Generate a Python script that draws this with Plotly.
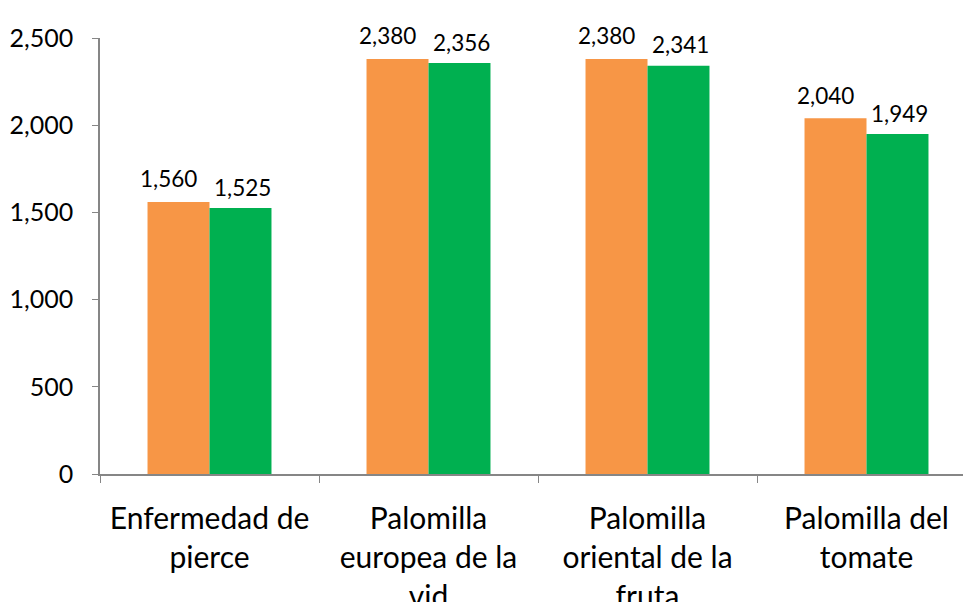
import plotly.graph_objects as go

categories = ["Enfermedad de<br>pierce", "Palomilla<br>europea de la<br>vid",
              "Palomilla<br>oriental de la<br>fruta", "Palomilla del<br>tomate"]
series_a = [1560, 2380, 2380, 2040]
series_b = [1525, 2356, 2341, 1949]
y_ticks = [0, 500, 1000, 1500, 2000, 2500]

FONT = "Lato"
fig = go.Figure()
fig.add_bar(x=categories, y=series_a, marker_color="#F79646", marker_line_width=0)
fig.add_bar(x=categories, y=series_b, marker_color="#00B050", marker_line_width=0)

for cat, a, b in zip(categories, series_a, series_b):
    fig.add_annotation(x=cat, y=a, text=f"{a:,}", showarrow=False, xshift=-41,
                       yshift=23, yanchor="middle",
                       font=dict(family=FONT, size=22.5, color="#000000"))
    fig.add_annotation(x=cat, y=b, text=f"{b:,}", showarrow=False, xshift=33,
                       yshift=21, yanchor="middle",
                       font=dict(family=FONT, size=22.5, color="#000000"))

fig.update_layout(
    width=971, height=602,
    margin=dict(l=92, r=3, t=30, b=136),
    paper_bgcolor="white", plot_bgcolor="white",
    barmode="group", bargap=0.434, bargroupgap=0,
    showlegend=False,
    font=dict(family=FONT, size=22, color="#000000"),
)
fig.update_xaxes(showline=True, linecolor="#868686", linewidth=1.5,
                 ticks="outside", tickson="boundaries", ticklen=7, tickcolor="#868686",
                 ticklabelstandoff=17, automargin=False,
                 tickfont=dict(family=FONT, size=30), showgrid=False)
fig.update_yaxes(range=[0, 2500], tickvals=y_ticks, tickformat=",",
                 showline=True, linecolor="#868686", linewidth=1.5,
                 ticks="outside", ticklen=6, tickcolor="#868686",
                 ticklabelstandoff=14, automargin=False,
                 tickfont=dict(family=FONT, size=25), showgrid=False, zeroline=False)

fig.write_html("out.html")
